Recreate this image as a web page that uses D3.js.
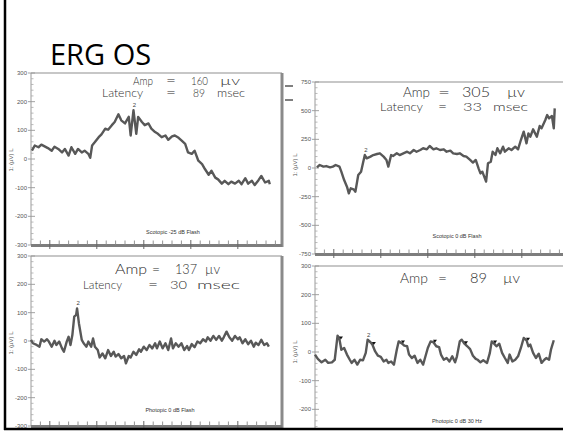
<!DOCTYPE html>
<html>
<head>
<meta charset="utf-8">
<script src="https://cdn.jsdelivr.net/npm/d3@7"></script>
<style>
  body { margin: 0; background: #fff; }
  svg { display: block; }
</style>
</head>
<body>
<script>
// ---- data (time in msec, amplitude in uV) ----
const p1Time = [-19,-16,-12,-9,-5,-2,2,5,9,13,16,20,23,27,30,34,37,41,43,45,48,52,55,59,62,66,69,73,76,80,84,86,89,92,94,98,101,105,108,112,115,119,123,126,130,133,137,140,144,147,151,154,158,162,165,169,172,176,179,183,186,190,193,197,201,204,208,211,215,218,222,225,229,233,234];
const p1Amp  = [29,47,41,50,43,38,29,43,35,23,35,12,41,18,35,23,29,18,4,47,59,76,86,106,102,118,129,156,135,124,147,82,170,88,147,129,118,124,106,94,88,76,82,67,79,82,74,65,53,23,18,29,-6,-18,-35,-55,-41,-65,-71,-86,-76,-88,-79,-86,-76,-88,-67,-86,-76,-91,-74,-59,-82,-76,-88];

const p2Time = [-18,-15,-11,-8,-4,-1,2,6,8,11,14,16,18,21,23,26,29,31,33,35,39,42,46,49,53,56,58,61,63,67,70,74,78,81,85,88,92,95,99,102,106,109,113,117,120,124,127,131,134,138,141,145,148,151,154,156,158,162,164,167,169,172,174,177,180,182,186,189,193,196,199,202,205,207,209,212,216,219,221,225,227,229,232,234,235];
const p2Amp  = [6,26,12,17,6,12,26,12,-32,-105,-163,-221,-177,-186,-206,-61,-32,41,113,84,99,113,122,128,99,70,12,113,105,128,113,128,142,128,157,142,157,172,163,192,163,172,157,163,142,151,128,122,128,105,99,70,47,70,-3,-47,-32,-119,41,55,142,113,172,128,186,142,172,157,186,163,244,317,215,302,273,337,273,366,346,419,462,433,454,346,520];

const p3Time = [-20,-18,-14,-11,-9,-6,-3,-1,2,5,7,10,13,15,18,20,22,24,26,28,29,31,34,36,39,41,44,46,48,51,53,56,59,62,65,68,70,73,76,79,81,84,86,89,92,95,97,100,103,106,109,112,114,117,120,123,126,129,131,134,137,140,143,146,148,151,154,157,160,163,166,168,171,174,177,180,183,185,188,191,194,197,200,202,205,208,211,214,217,219,222,225,228,231,233];
const p3Amp  = [4,-8,-14,-20,6,-2,6,-2,-20,1,-14,-2,-26,-38,-2,15,-14,21,86,92,115,62,4,-8,-20,-2,-20,9,-20,-32,-58,-44,-61,-32,-53,-38,-55,-46,-61,-53,-79,-53,-58,-38,-49,-29,-38,-20,-32,-14,-26,-8,-26,-2,-26,-8,-32,9,-26,-8,-20,-8,-32,-18,-32,-11,-22,-2,-8,6,-2,13,1,18,4,18,1,13,33,13,1,18,6,13,-8,6,-11,1,-20,-6,-14,4,-14,-8,-20];

const p4Time = [-20,-17,-13,-9,-6,-2,1,4,6,8,11,14,17,19,22,25,28,31,34,36,39,41,44,47,50,53,56,58,61,64,67,69,72,75,78,80,83,86,89,92,95,97,100,103,106,109,112,114,117,120,123,126,129,131,134,136,139,142,145,148,151,153,156,159,163,166,168,170,173,176,179,182,185,187,190,193,196,199,202,205,207,209,212,215,218,221,224,226,229,231,234];
const p4Amp  = [-9,-24,-36,-27,-38,-36,-27,57,45,8,14,-9,-27,-38,-27,-44,-27,-29,-3,43,34,26,2,-13,-17,-33,-27,-38,-33,-44,8,37,31,22,20,-9,-21,-13,-38,-27,-44,-21,14,37,34,20,17,-9,-27,-21,-33,-15,-36,-15,37,43,29,20,10,-13,-24,-27,-36,-29,-38,-3,37,31,20,29,-3,-21,-38,-9,-33,-27,-15,14,49,41,20,26,-3,-21,-6,-38,-27,-21,-27,8,41];

const ticks300 = [-300, -200, -100, 0, 100, 200, 300];
const ticks750 = [-750, -500, -250, 0, 250, 500, 750];
const panelTitles = ["Scotopic -25 dB Flash", "Scotopic 0 dB Flash", "Photopic 0 dB Flash", "Photopic 0 dB 30 Hz"];
const ampWords = [["Amp", "=", "160", "\u00b5v"], ["Amp", "=", "305", "\u00b5v"], ["Amp", "=", "137", "\u00b5v"], ["Amp", "=", "89", "\u00b5v"]];
const latWords = [["Latency", "=", "89", "msec"], ["Latency", "=", "33", "msec"], ["Latency", "=", "30", "msec"], null];
const peakTimes = [89, 33, 29, 36];
const flickMarks = [6, 41, 72, 106, 139, 170, 204];

// ---- layout ----
const W = 563, H = 431;
const svg = d3.select("body").append("svg")
  .attr("width", W).attr("height", H)
  .attr("font-family", "Liberation Sans, Arial, sans-serif");

svg.append("clipPath").attr("id", "slide")
  .append("rect").attr("x", 6).attr("y", 0).attr("width", W - 6).attr("height", 428);

const root = svg.append("g").attr("clip-path", "url(#slide)");

// word spans [x0, x1] for the handwritten notes
const panels = [
  { x0: 31, x1: 282, top: 73, bot: 245, dom: [-300, 300], ticks: ticks300, minor: 20, t: p1Time, v: p1Amp,
    title: [173, 234], yLab: 160, rightEdge: true,
    amp: { y: 85, size: 11, spans: [[133, 153], [166, 176], [191, 208], [220, 240]] },
    lat: { y: 97, size: 11, spans: [[102, 143], [166, 176], [193, 205], [217, 245]] } },
  { x0: 315, x1: 566, top: 82, bot: 254, dom: [-750, 750], ticks: ticks750, minor: 50, t: p2Time, v: p2Amp,
    title: [457, 238], yLab: 165, rightEdge: false,
    amp: { y: 97, size: 13, spans: [[403, 430], [438, 450], [462, 490], [507, 525]] },
    lat: { y: 111, size: 12, spans: [[380, 423], [438, 447], [463, 482], [493, 528]] } },
  { x0: 31, x1: 282, top: 256, bot: 426, dom: [-300, 300], ticks: ticks300, minor: 20, t: p3Time, v: p3Amp,
    title: [170, 412], yLab: 343, rightEdge: true,
    amp: { y: 274, size: 13, spans: [[115, 147], [152, 160], [175, 197], [205, 220]] },
    lat: { y: 289, size: 12, spans: [[83, 122], [148, 158], [170, 187], [197, 240]] } },
  { x0: 315, x1: 566, top: 266, bot: 438, dom: [-300, 300], ticks: ticks300, minor: 20, t: p4Time, v: p4Amp,
    title: [457, 423], yLab: 352, rightEdge: false,
    amp: { y: 283, size: 14, spans: [[400, 428], [438, 447], [470, 487], [503, 520]] },
    lat: null }
];

const hand = "Lato, Open Sans, sans-serif";
function note(g, words, cfg) {
  g.selectAll(null).data(words).join("text")
    .attr("x", (d, k) => cfg.spans[k][0])
    .attr("y", cfg.y)
    .attr("font-size", cfg.size).attr("font-family", hand).attr("font-weight", 300)
    .attr("fill", "#2e2e2e")
    .attr("textLength", (d, k) => cfg.spans[k][1] - cfg.spans[k][0])
    .attr("lengthAdjust", "spacingAndGlyphs")
    .text(d => d);
}

panels.forEach((p, i) => {
  const g = root.append("g");
  const x = d3.scaleLinear().domain([-20, 247]).range([p.x0, p.x1]);
  const y = d3.scaleLinear().domain(p.dom).range([p.bot, p.top]);

  // frame
  g.append("line").attr("x1", p.x0).attr("x2", p.x1).attr("y1", p.top).attr("y2", p.top)
    .attr("stroke", "#b5b5b5").attr("stroke-width", 1.5);
  if (p.rightEdge) {
    g.append("line").attr("x1", p.x1).attr("x2", p.x1).attr("y1", p.top).attr("y2", p.bot + 2)
      .attr("stroke", "#8a8a8a").attr("stroke-width", 3);
  }

  // y axis
  g.append("line").attr("x1", p.x0).attr("x2", p.x0).attr("y1", p.top).attr("y2", p.bot)
    .attr("stroke", "#9a9a9a").attr("stroke-width", 1);
  const minorY = d3.range(p.dom[0], p.dom[1] + 1, p.minor).filter(d => !p.ticks.includes(d));
  g.selectAll(".ym").data(minorY).join("line")
    .attr("x1", p.x0).attr("x2", p.x0 + 2.5).attr("y1", d => y(d)).attr("y2", d => y(d))
    .attr("stroke", "#aaa").attr("stroke-width", 0.8);
  g.selectAll(".yM").data(p.ticks).join("line")
    .attr("x1", p.x0 - 3).attr("x2", p.x0 + 4).attr("y1", d => y(d)).attr("y2", d => y(d))
    .attr("stroke", "#999").attr("stroke-width", 0.9);
  g.selectAll(".yl").data(p.ticks.filter(d => y(d) < 432)).join("text")
    .attr("x", p.x0 - 4).attr("y", d => y(d) + 2)
    .attr("text-anchor", "end").attr("font-size", 6).attr("fill", "#555")
    .text(d => d);
  g.append("text")
    .attr("transform", `translate(${p.x0 - 18},${p.yLab}) rotate(-90)`)
    .attr("text-anchor", "middle").attr("font-size", 6).attr("fill", "#555")
    .text("1: (\u00b5V) L");

  // bottom bar with ticks
  g.append("line").attr("x1", p.x0).attr("x2", p.x1).attr("y1", p.bot + 0.5).attr("y2", p.bot + 0.5)
    .attr("stroke", "#7d7d7d").attr("stroke-width", 3);
  const minorX = d3.range(-10, 247, 10).filter(d => d % 50 !== 0);
  g.selectAll(".xm").data(minorX).join("line")
    .attr("x1", d => x(d)).attr("x2", d => x(d)).attr("y1", p.bot - 4.5).attr("y2", p.bot)
    .attr("stroke", "#888").attr("stroke-width", 0.9);
  g.selectAll(".xM").data([0, 50, 100, 150, 200]).join("line")
    .attr("x1", d => x(d)).attr("x2", d => x(d)).attr("y1", p.bot - 5).attr("y2", p.bot + 4)
    .attr("stroke", "#666").attr("stroke-width", 1);

  // trace
  const pts = p.t.map((t, k) => [t, p.v[k]]);
  g.append("path").datum(pts)
    .attr("d", d3.line().x(d => x(d[0])).y(d => y(d[1])))
    .attr("fill", "none").attr("stroke", "#585858").attr("stroke-width", 2.4)
    .attr("stroke-linejoin", "round");

  // peak marker
  const pkIdx = d3.minIndex(p.t, t => Math.abs(t - peakTimes[i]));
  g.append("text").attr("x", x(p.t[pkIdx]) + 1).attr("y", y(p.v[pkIdx]) - 3)
    .attr("font-size", 6).attr("fill", "#444").attr("text-anchor", "middle").text("2");

  // flicker markers
  if (i === 3) {
    g.selectAll(".fm").data(flickMarks).join("path")
      .attr("d", d => {
        const k = d3.minIndex(p.t, t => Math.abs(t - d));
        const cx = x(p.t[k]) + 1.5, cy = y(p.v[k]) - 1;
        return `M${cx - 2},${cy - 1.5}L${cx + 2},${cy - 1.5}L${cx},${cy + 1.5}Z`;
      })
      .attr("fill", "#111");
  }

  // subtitle
  g.append("text").attr("x", p.title[0]).attr("y", p.title[1])
    .attr("text-anchor", "middle").attr("font-size", 5.5).attr("fill", "#333")
    .attr("font-family", "Liberation Sans Narrow, Liberation Sans, sans-serif")
    .text(panelTitles[i]);

  // handwritten notes
  note(g, ampWords[i], p.amp);
  if (p.lat) note(g, latWords[i], p.lat);
});

// slide frame and title
svg.append("line").attr("x1", 5).attr("x2", 5).attr("y1", 0).attr("y2", 430)
  .attr("stroke", "#000").attr("stroke-width", 2.5);
svg.append("line").attr("x1", 4).attr("x2", W).attr("y1", 429).attr("y2", 429)
  .attr("stroke", "#000").attr("stroke-width", 2.5);
svg.selectAll(".dash").data([86, 100]).join("line")
  .attr("x1", 285).attr("x2", 293).attr("y1", d => d).attr("y2", d => d)
  .attr("stroke", "#000").attr("stroke-width", 1);

svg.append("text").attr("x", 50).attr("y", 65)
  .attr("font-size", 29).attr("fill", "#000")
  .attr("font-family", "Open Sans, Liberation Sans, sans-serif")
  .text("ERG OS");
</script>
</body>
</html>
